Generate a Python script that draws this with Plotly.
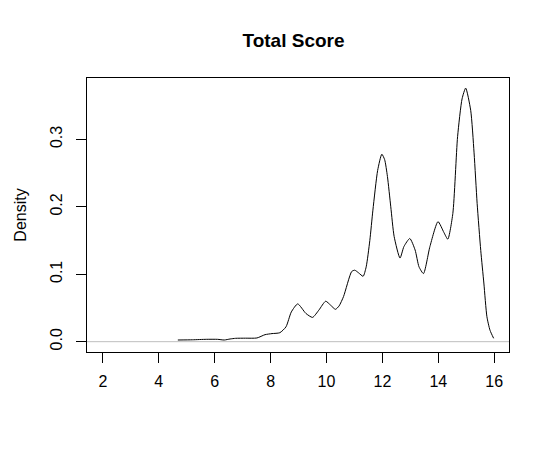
import plotly.graph_objects as go

# Density curve points (x: Total Score, y: density)
score = [4.68, 5.20, 5.70, 6.10, 6.34, 6.55, 6.75, 7.10, 7.51, 7.80, 8.05, 8.33,
         8.55, 8.74, 8.97, 9.26, 9.50, 9.73, 9.97, 10.15, 10.32, 10.45, 10.61,
         10.90, 11.01, 11.15, 11.31, 11.42, 11.55, 11.66, 11.83, 11.98, 12.08,
         12.18, 12.30, 12.42, 12.63, 12.77, 12.98, 13.17, 13.31, 13.47, 13.70,
         13.99, 14.20, 14.34, 14.52, 14.69, 14.85, 14.98, 15.16, 15.28, 15.39,
         15.52, 15.63, 15.74, 15.85, 15.98]
density = [0.0025, 0.0028, 0.0035, 0.0035, 0.0025, 0.0040, 0.0050, 0.0052, 0.0055,
           0.0104, 0.0120, 0.0133, 0.0220, 0.0440, 0.0560, 0.0420, 0.0360, 0.0470,
           0.0600, 0.0540, 0.0480, 0.0530, 0.0670, 0.1040, 0.1060, 0.1020, 0.0970,
           0.1110, 0.1500, 0.1950, 0.2540, 0.2780, 0.2700, 0.2450, 0.2000, 0.1560,
           0.1240, 0.1410, 0.1530, 0.1360, 0.1110, 0.1010, 0.1410, 0.1780, 0.1620,
           0.1520, 0.1900, 0.3040, 0.3600, 0.3760, 0.3430, 0.2800, 0.2050, 0.1350,
           0.0870, 0.0370, 0.0170, 0.0050]

x_ticks = [2, 4, 6, 8, 10, 12, 14, 16]
y_ticks = [0.0, 0.1, 0.2, 0.3]
y_tick_labels = ["0.0", "0.1", "0.2", "0.3"]

FONT = "Liberation Sans, Arial, sans-serif"

fig = go.Figure()
fig.add_trace(go.Scatter(x=score, y=density, mode="lines",
                         line=dict(color="black", width=1, shape="spline", smoothing=0.6),
                         hoverinfo="skip", showlegend=False))

fig.add_shape(type="line", xref="paper", yref="y", x0=0, x1=1, y0=0, y1=0,
              line=dict(color="#bebebe", width=1), layer="below")

# page body has an 8px default margin, so figure coordinates are offset by 8px
fig.update_layout(
    width=550, height=450,
    paper_bgcolor="white", plot_bgcolor="white",
    margin=dict(l=70, r=49, t=70, b=106),
    font=dict(family=FONT, size=16, color="black"),
    title=dict(text="<b>Total Score</b>", x=(70 + 501) / 2 / 550, xanchor="center",
               y=1 - 32 / 450, yanchor="middle",
               font=dict(family=FONT, size=19, color="black")),
    xaxis=dict(range=[1.43, 16.53], tickvals=x_ticks, ticks="outside", ticklen=10,
               tickcolor="black", tickwidth=1, showgrid=False, zeroline=False,
               showline=True, linecolor="black", linewidth=1, mirror=True,
               ticklabelstandoff=5, tickfont=dict(size=16)),
    yaxis=dict(range=[-0.0153, 0.391], tickvals=y_ticks, ticktext=y_tick_labels,
               ticks="outside", ticklen=10, tickcolor="black", tickwidth=1,
               tickangle=-90, showgrid=False, zeroline=False,
               showline=True, linecolor="black", linewidth=1, mirror=True,
               ticklabelstandoff=8, tickfont=dict(size=16),
               title=dict(text="Density", standoff=16, font=dict(size=16))),
)

fig.write_html("out.html")
